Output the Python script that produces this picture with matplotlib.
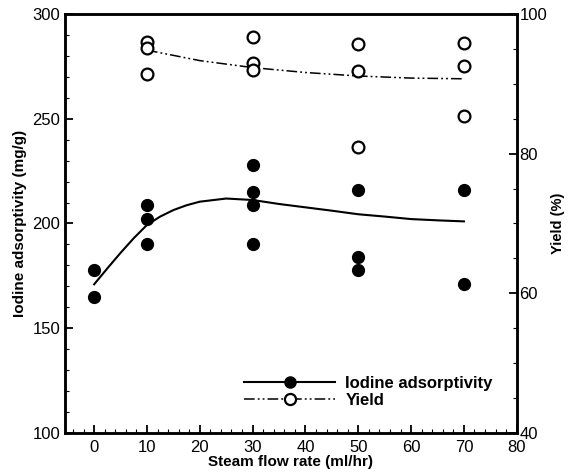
import numpy as np
import matplotlib
matplotlib.use("Agg")
import matplotlib.pyplot as plt
from matplotlib.lines import Line2D
from matplotlib.ticker import MultipleLocator

plt.rcParams['font.family'] = ['Liberation Sans', 'DejaVu Sans']

# measured points, iodine adsorptivity (mg/g)
iod_x = [0, 0, 10, 10, 10, 30, 30, 30, 30, 50, 50, 50, 70, 70]
iod_y = [178, 165, 209, 202, 190, 228, 215, 209, 190, 216, 184, 178, 216, 171]

# fitted curve
iod_fit_x = [0, 2.5, 5, 7.5, 10, 12.5, 15, 17.5, 20, 25, 30, 35, 40, 45, 50, 55, 60, 65, 70]
iod_fit_y = [171, 178.6, 186, 193, 199.3, 203.3, 206.4, 208.7, 210.4, 211.9, 211.2,
             209.3, 207.7, 206.1, 204.4, 203.3, 202.1, 201.5, 201]

# measured yield (%)
yld_x = [10, 10, 10, 30, 30, 30, 50, 50, 50, 70, 70, 70]
yld_y = [95.9, 95.1, 91.4, 96.7, 92.9, 92.0, 95.7, 91.8, 81.0, 95.8, 92.5, 85.4]

yld_fit_x = [10, 20, 30, 40, 50, 60, 70]
yld_fit_y = [94.8, 93.3, 92.3, 91.6, 91.1, 90.8, 90.7]

fig = plt.figure(figsize=(5.71, 4.75), dpi=100)
ax = fig.add_axes([0.114, 0.088, 0.791, 0.883])
ax2 = ax.twinx()

dashdot = (0, (7, 2, 1.2, 2, 1.2, 2))

ax.plot(iod_fit_x, iod_fit_y, color='black', lw=1.5)
ax.plot(iod_x, iod_y, 'o', color='black', ms=8.5, mec='black')
ax2.plot(yld_fit_x, yld_fit_y, color='black', lw=1.1, linestyle=dashdot)
ax2.plot(yld_x, yld_y, 'o', mfc='white', mec='black', mew=1.6, ms=8.5)

ax.set_xlim(-5.5, 80)
ax.set_ylim(100, 300)
ax2.set_ylim(40, 100)

ax.xaxis.set_major_locator(MultipleLocator(10))
ax.xaxis.set_minor_locator(MultipleLocator(2))
ax.yaxis.set_major_locator(MultipleLocator(50))
ax.yaxis.set_minor_locator(MultipleLocator(10))
ax2.yaxis.set_major_locator(MultipleLocator(20))
ax2.yaxis.set_minor_locator(MultipleLocator(5))

for a in (ax, ax2):
    a.tick_params(which='major', direction='in', length=6, width=1.3, labelsize=12)
    a.tick_params(which='minor', direction='in', length=3, width=0.8)
    for s in a.spines.values():
        s.set_linewidth(1.8)
ax.tick_params(axis='y', which='both', right=False)
ax.tick_params(axis='x', pad=5)
ax2.tick_params(axis='y', pad=2)

ax.set_xlabel('Steam flow rate (ml/hr)', fontsize=11, fontweight='bold', labelpad=0)
ax.set_ylabel('Iodine adsorptivity (mg/g)', fontsize=11, fontweight='bold', labelpad=4)
ax2.set_ylabel('Yield (%)', fontsize=10.5, fontweight='bold', labelpad=3)

handles = [
    Line2D([], [], color='black', lw=1.5, marker='o', ms=8, mfc='black'),
    Line2D([], [], color='black', lw=1.1, linestyle=dashdot, marker='o', ms=8,
           mfc='white', mec='black', mew=1.6),
]
ax.legend(handles, ['Iodine adsorptivity', 'Yield'], loc='lower right',
          bbox_to_anchor=(0.98, 0.025), frameon=False, handlelength=5.5,
          prop={'weight': 'bold', 'size': 12}, labelspacing=0.1,
          handletextpad=0.6)

fig.savefig('out.png', dpi=100)
